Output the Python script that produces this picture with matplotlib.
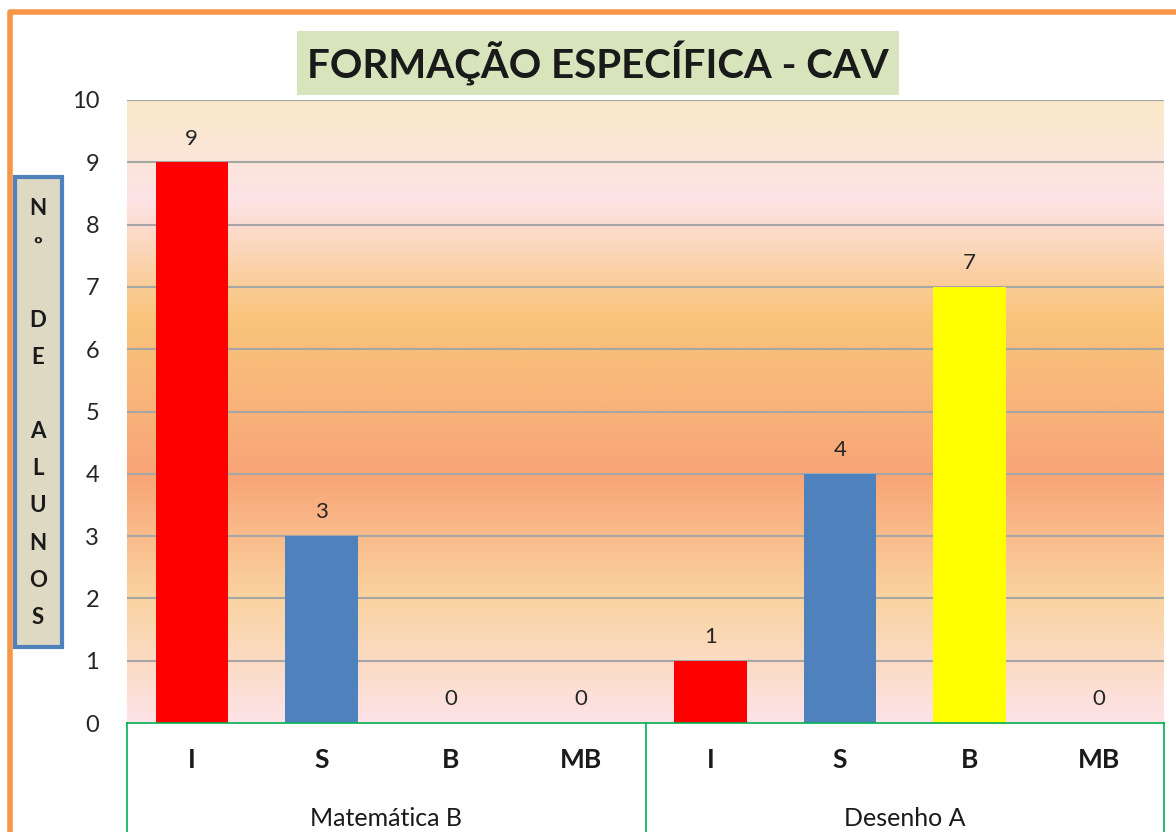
import matplotlib
matplotlib.use("Agg")
import matplotlib.pyplot as plt
import numpy as np
from matplotlib.colors import LinearSegmentedColormap
from matplotlib.patches import Rectangle

plt.rcParams['font.family'] = ['Lato', 'DejaVu Sans']

title = "FORMAÇÃO ESPECÍFICA - CAV"
groups = ["Matemática B", "Desenho A"]
levels = ["I", "S", "B", "MB"]
matematica_b = [9, 3, 0, 0]
desenho_a = [1, 4, 7, 0]
level_colors = ["#FF0000", "#4F81BD", "#FFFF00", "#9BBB59"]
ylabel = "N\nº\n\nD\nE\n\nA\nL\nU\nN\nO\nS"

values = matematica_b + desenho_a
labels = levels * 2
colors = level_colors * 2
x = np.arange(len(values))

fig = plt.figure(figsize=(11.76, 8.32), dpi=100)
ax = fig.add_axes([127 / 1176, 1 - 723 / 832, (1164 - 127) / 1176, (723 - 100) / 832])

# background gradient (bottom -> top in value units)
stops = [(0.0, "#FDE3E7"), (0.2, "#FAD3A0"), (0.4, "#F8A477"),
         (0.5, "#F8B27A"), (0.65, "#F9C47A"), (0.84, "#FDE3E6"),
         (1.0, "#FAE9C9")]
cmap = LinearSegmentedColormap.from_list("bg", stops)
grad = np.linspace(0, 1, 256).reshape(-1, 1)
ax.imshow(grad, cmap=cmap, aspect="auto", origin="lower",
          extent=[-0.5, 7.5, 0, 10], zorder=0)

ax.set_xlim(-0.5, 7.5)
ax.set_ylim(0, 10)
ax.set_yticks(range(0, 11))
for y in range(1, 11):
    ax.axhline(y, color="#A6A6A6", lw=1.5, zorder=1)

ax.bar(x, values, width=0.56, color=colors, zorder=2)
for xi, v in zip(x, values):
    ax.text(xi, v + 0.22, str(v), ha="center", va="bottom", fontsize=16,
            color="#262626")

for s in ax.spines.values():
    s.set_visible(False)
ax.tick_params(axis="y", length=0, pad=20, labelsize=17, labelcolor="#262626")
ax.tick_params(axis="x", length=0, labelbottom=False)

# category box below the axis
tr = ax.get_xaxis_transform()
green = "#00B050"
ax.plot([-0.5, 7.5], [0, 0], color=green, lw=1.2, transform=tr, clip_on=False, zorder=3)
for xv in [-0.5, 3.5, 7.5]:
    ax.plot([xv, xv], [0, -0.3], color=green, lw=1.2, transform=tr, clip_on=False)
for xi, lab in zip(x, labels):
    ax.text(xi, -37 / 623, lab, transform=tr, ha="center", va="center",
            fontsize=19, fontweight="bold", color="#1a1a1a")
for gi, g in enumerate(groups):
    ax.text(gi * 4 + 1.5, -96 / 623, g, transform=tr, ha="center", va="center",
            fontsize=18, color="#1a1a1a")

# title
fig.text(598 / 1176, 1 - 63 / 832, title, ha="center", va="center",
         fontsize=29, fontweight="bold", color="#1a1a1a",
         bbox=dict(boxstyle="square,pad=0.24", fc="#D8E4BC", ec="none"))

# y label box
fig.patches.append(Rectangle((15 / 1176, 1 - 647 / 832), 47 / 1176, 470 / 832,
                             transform=fig.transFigure, fc="#DDD9C3",
                             ec="#4F81BD", lw=3))
fig.text(38 / 1176, 1 - 413 / 832, ylabel, ha="center", va="center",
         fontsize=16, fontweight="bold", linespacing=1.95, color="#1a1a1a")

# orange frame
fig.lines.append(plt.Line2D([10 / 1176, 10 / 1176, 1], [0, 1 - 12 / 832, 1 - 12 / 832],
                            transform=fig.transFigure, color="#F79646", lw=4))

fig.savefig("out.png", dpi=100)
